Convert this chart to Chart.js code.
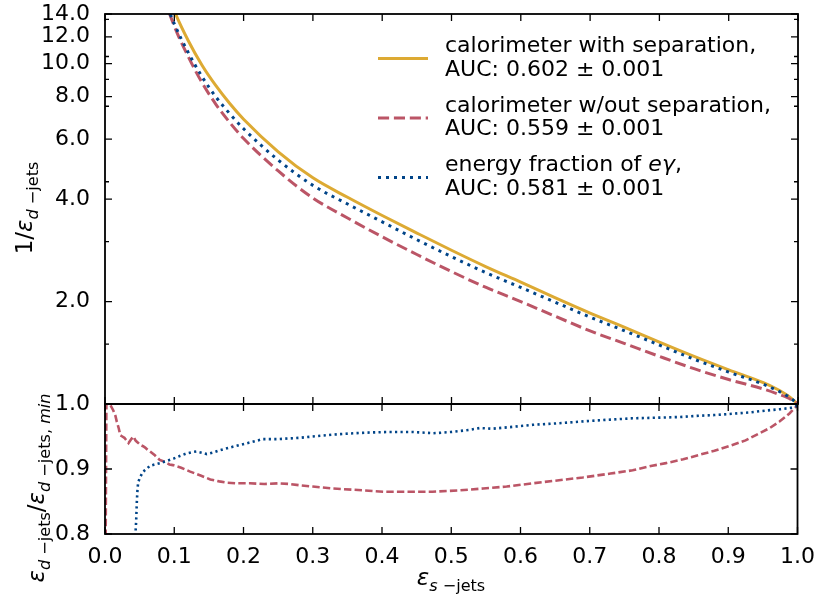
<!DOCTYPE html>
<html lang="en">
<head>
<meta charset="UTF-8">
<title>ROC comparison</title>
<script src="https://cdn.jsdelivr.net/npm/chart.js"></script>
<style>
  body { margin: 0; background: #fff; }
  #wrap { position: relative; width: 817px; height: 594px; }
  canvas { position: absolute; left: 0; }
</style>
</head>
<body>
<div id="wrap">
  <canvas id="topChart" width="817" height="420" style="top:0px"></canvas>
  <canvas id="bottomChart" width="817" height="214" style="top:380px"></canvas>
</div>
<script>
// ---- data ----
const sigEff = [0.05, 0.06, 0.08, 0.10, 0.12, 0.14, 0.16, 0.18, 0.20, 0.25, 0.30, 0.35, 0.40, 0.45, 0.50, 0.55, 0.60, 0.65, 0.70, 0.75, 0.80, 0.85, 0.90, 0.95, 0.97, 0.985, 1.0];
const invWithSep = [34.5, 26.6, 18.5, 14.3, 11.7, 9.9, 8.62, 7.64, 6.87, 5.51, 4.62, 4.05, 3.58, 3.18, 2.83, 2.53, 2.28, 2.05, 1.85, 1.68, 1.52, 1.38, 1.26, 1.155, 1.105, 1.06, 1.0];
const invNoSep   = [32.4, 24.8, 16.9, 12.9, 10.5, 8.80, 7.60, 6.72, 6.03, 4.84, 4.03, 3.52, 3.10, 2.75, 2.45, 2.20, 2.00, 1.81, 1.64, 1.505, 1.38, 1.27, 1.18, 1.107, 1.072, 1.043, 1.0];
const invEnergy  = [30.6, 23.9, 16.8, 13.1, 10.8, 9.16, 7.99, 7.13, 6.44, 5.21, 4.39, 3.87, 3.43, 3.04, 2.71, 2.43, 2.20, 1.99, 1.80, 1.64, 1.49, 1.354, 1.241, 1.143, 1.096, 1.055, 1.0];

const ratioNoSepX = [0, 0.002, 0.007, 0.012, 0.015, 0.017, 0.020, 0.022, 0.025, 0.028, 0.031, 0.034, 0.038, 0.041, 0.044, 0.046, 0.051, 0.055, 0.058, 0.062, 0.065, 0.072, 0.079, 0.084, 0.088, 0.093, 0.098, 0.11, 0.123, 0.138, 0.152, 0.165, 0.176, 0.19, 0.209, 0.23, 0.25, 0.265, 0.281, 0.3, 0.329, 0.36, 0.402, 0.44, 0.473, 0.51, 0.546, 0.58, 0.618, 0.65, 0.69, 0.73, 0.762, 0.79, 0.81, 0.835, 0.859, 0.88, 0.906, 0.925, 0.945, 0.96, 0.974, 0.988, 1.0];
const ratioNoSep  = [0.60, 1.0, 1.0, 0.99, 0.982, 0.973, 0.962, 0.952, 0.950, 0.948, 0.944, 0.940, 0.946, 0.950, 0.944, 0.942, 0.937, 0.935, 0.933, 0.929, 0.927, 0.921, 0.914, 0.912, 0.910, 0.907, 0.906, 0.902, 0.896, 0.890, 0.884, 0.881, 0.879, 0.878, 0.878, 0.877, 0.878, 0.877, 0.875, 0.873, 0.870, 0.868, 0.865, 0.865, 0.865, 0.867, 0.870, 0.873, 0.878, 0.882, 0.887, 0.893, 0.898, 0.905, 0.909, 0.915, 0.922, 0.928, 0.937, 0.944, 0.955, 0.963, 0.973, 0.985, 0.998];

const ratioEnergyX = [0.043, 0.045, 0.046, 0.047, 0.048, 0.051, 0.055, 0.060, 0.065, 0.072, 0.079, 0.088, 0.099, 0.108, 0.118, 0.126, 0.132, 0.140, 0.147, 0.155, 0.166, 0.18, 0.195, 0.21, 0.228, 0.25, 0.281, 0.30, 0.33, 0.36, 0.378, 0.41, 0.445, 0.474, 0.50, 0.525, 0.541, 0.56, 0.59, 0.618, 0.65, 0.70, 0.73, 0.762, 0.80, 0.83, 0.859, 0.88, 0.906, 0.93, 0.955, 0.975, 0.99, 1.0];
const ratioEnergy  = [0.78, 0.82, 0.85, 0.87, 0.880, 0.888, 0.896, 0.900, 0.905, 0.907, 0.909, 0.912, 0.916, 0.920, 0.924, 0.926, 0.927, 0.925, 0.923, 0.925, 0.929, 0.933, 0.937, 0.941, 0.946, 0.946, 0.948, 0.950, 0.953, 0.955, 0.956, 0.957, 0.957, 0.955, 0.957, 0.960, 0.963, 0.962, 0.965, 0.968, 0.970, 0.974, 0.976, 0.978, 0.979, 0.980, 0.982, 0.983, 0.985, 0.987, 0.990, 0.992, 0.994, 0.997];

const xTicks = [0, 0.1, 0.2, 0.3, 0.4, 0.5, 0.6, 0.7, 0.8, 0.9, 1.0];
const yTopTicks = [1, 2, 4, 6, 8, 10, 12, 14];
const yTopMinor = [1.5, 3, 4.5, 7.5, 9, 10.5, 13.5];
const yBotTicks = [0.8, 0.9, 1.0];

const seriesNames = [
  [['calorimeter with separation,', 'n']],
  [['calorimeter w/out separation,', 'n']],
  [['energy fraction of ', 'n'], ['eγ', 'i'], [',', 'n']]
];
const aucLabels = ['AUC: 0.602 ± 0.001', 'AUC: 0.559 ± 0.001', 'AUC: 0.581 ± 0.001'];

const yellow = '#DDAA33', red = '#BB5566', blue = '#004488';
const FONT = 'DejaVu Sans';

function pts(xs, ys) { return xs.map((x, i) => ({ x: x, y: ys[i] })); }

function runsWidth(ctx, runs, size) {
  let w = 0;
  runs.forEach(([t, st]) => {
    const fs = st.includes('s') ? size * 0.7 : size;
    ctx.font = (st.includes('i') ? 'italic ' : '') + fs + 'px "' + FONT + '"';
    w += ctx.measureText(t).width;
  });
  return w;
}
function drawRuns(ctx, runs, x, y, size) {
  let cx = x;
  runs.forEach(([t, st]) => {
    const sub = st.includes('s');
    const fs = sub ? size * 0.7 : size;
    ctx.font = (st.includes('i') ? 'italic ' : '') + fs + 'px "' + FONT + '"';
    ctx.fillText(t, cx, y + (sub ? size * 0.24 : 0));
    cx += ctx.measureText(t).width;
  });
}
function drawRotated(ctx, runs, x, y, size) {
  ctx.save();
  ctx.translate(x, y);
  ctx.rotate(-Math.PI / 2);
  const w = runsWidth(ctx, runs, size);
  drawRuns(ctx, runs, -w / 2, 0, size);
  ctx.restore();
}

// inward ticks on all four sides + frame
const framePlugin = {
  id: 'frame',
  afterDraw(chart, args, opts) {
    const { ctx, chartArea: a, scales } = chart;
    ctx.save();
    ctx.strokeStyle = '#000';
    ctx.lineWidth = 1.3;
    ctx.beginPath();
    xTicks.forEach(v => {
      const px = scales.x.getPixelForValue(v);
      ctx.moveTo(px, a.top); ctx.lineTo(px, a.top + 7);
      ctx.moveTo(px, a.bottom); ctx.lineTo(px, a.bottom - 7);
    });
    opts.yMajor.forEach(v => {
      const py = scales.y.getPixelForValue(v);
      ctx.moveTo(a.left, py); ctx.lineTo(a.left + 7, py);
      ctx.moveTo(a.right, py); ctx.lineTo(a.right - 7, py);
    });
    opts.yMinor.forEach(v => {
      const py = scales.y.getPixelForValue(v);
      ctx.moveTo(a.left, py); ctx.lineTo(a.left + 4, py);
      ctx.moveTo(a.right, py); ctx.lineTo(a.right - 4, py);
    });
    ctx.stroke();
    ctx.lineWidth = 1.8;
    ctx.strokeRect(a.left, a.top, a.right - a.left, a.bottom - a.top);
    ctx.restore();
  }
};

const topTexts = {
  id: 'topTexts',
  afterDraw(chart) {
    const ctx = chart.ctx;
    ctx.save();
    ctx.fillStyle = '#000';
    ctx.textAlign = 'left';
    ctx.textBaseline = 'alphabetic';
    drawRotated(ctx, [['1/', 'n'], ['ε', 'i'], ['d', 'is'], [' −jets', 'ns']], 32, 208, 23);
    // legend
    const styles = [
      { c: yellow, d: [] },
      { c: red, d: [11.1, 4.8] },
      { c: blue, d: [3, 5] }
    ];
    for (let i = 0; i < 3; i++) {
      const b = 52 + i * 59.5;
      ctx.strokeStyle = styles[i].c;
      ctx.lineWidth = 3;
      ctx.lineCap = 'butt';
      ctx.setLineDash(styles[i].d);
      ctx.beginPath();
      ctx.moveTo(378, b + 6.5);
      ctx.lineTo(428, b + 6.5);
      ctx.stroke();
      ctx.setLineDash([]);
      drawRuns(ctx, seriesNames[i], 445, b, 22);
      drawRuns(ctx, [[aucLabels[i], 'n']], 445, b + 23.5, 22);
    }
    ctx.restore();
  }
};

const bottomTexts = {
  id: 'bottomTexts',
  afterDraw(chart) {
    const ctx = chart.ctx;
    ctx.save();
    ctx.fillStyle = '#000';
    ctx.textAlign = 'left';
    ctx.textBaseline = 'alphabetic';
    drawRotated(ctx, [['ε', 'i'], ['d', 'is'], [' −jets', 'ns'], ['/', 'n'], ['ε', 'i'], ['d', 'is'], [' −jets, ', 'ns'], ['min', 'is']], 44, 488 - 380, 23);
    const xr = [['ε', 'i'], ['s', 'is'], [' −jets', 'ns']];
    const w = runsWidth(ctx, xr, 23);
    drawRuns(ctx, xr, 451 - w / 2, 585 - 380, 23);
    ctx.restore();
  }
};

const yTickFont = { family: FONT, size: 22, lineHeight: 0.6 };
const xTickFont = { family: FONT, size: 22 };

new Chart(document.getElementById('topChart'), {
  type: 'line',
  data: {
    datasets: [
      { data: pts(sigEff, invWithSep), borderColor: yellow, borderWidth: 3, order: 3, cubicInterpolationMode: 'monotone' },
      { data: pts(sigEff, invNoSep), borderColor: red, borderWidth: 3, borderDash: [11.1, 4.8], order: 2, cubicInterpolationMode: 'monotone' },
      { data: pts(sigEff, invEnergy), borderColor: blue, borderWidth: 3, borderDash: [3, 5], order: 1, cubicInterpolationMode: 'monotone' }
    ]
  },
  options: {
    responsive: false,
    animation: false,
    events: [],
    elements: { point: { radius: 0 }, line: { fill: false, borderCapStyle: 'butt' } },
    layout: { padding: { top: 14, bottom: 16, left: 0, right: 19 } },
    scales: {
      x: { type: 'linear', min: 0, max: 1, display: false },
      y: {
        type: 'logarithmic', min: 1, max: 14,
        afterBuildTicks: s => { s.ticks = yTopTicks.map(v => ({ value: v })); },
        afterFit: s => { s.width = 105; },
        ticks: { callback: v => (v === 1 ? '' : Number(v).toFixed(1)), font: yTickFont, color: '#000', padding: 7, autoSkip: false },
        grid: { display: false },
        border: { display: false }
      }
    },
    plugins: {
      legend: { display: false },
      tooltip: { enabled: false },
      frame: { yMajor: yTopTicks, yMinor: yTopMinor }
    }
  },
  plugins: [framePlugin, topTexts]
});

new Chart(document.getElementById('bottomChart'), {
  type: 'line',
  data: {
    datasets: [
      { data: pts(ratioNoSepX, ratioNoSep), borderColor: red, borderWidth: 2.6, borderDash: [7.4, 3.2], order: 2 },
      { data: pts(ratioEnergyX, ratioEnergy), borderColor: blue, borderWidth: 2.6, borderDash: [2.2, 3.3], order: 1 }
    ]
  },
  options: {
    responsive: false,
    animation: false,
    events: [],
    elements: { point: { radius: 0 }, line: { fill: false, tension: 0, borderCapStyle: 'butt' } },
    layout: { padding: { top: 24, bottom: 0, left: 0, right: 19 } },
    scales: {
      x: {
        type: 'linear', min: 0, max: 1,
        afterBuildTicks: s => { s.ticks = xTicks.map(v => ({ value: v })); },
        afterFit: s => { s.height = 60; },
        ticks: { callback: v => Number(v).toFixed(1), font: xTickFont, color: '#000', padding: 2, autoSkip: false, maxRotation: 0 },
        grid: { display: false },
        border: { display: false }
      },
      y: {
        type: 'linear', min: 0.8, max: 1.0,
        afterBuildTicks: s => { s.ticks = yBotTicks.map(v => ({ value: v })); },
        afterFit: s => { s.width = 105; },
        ticks: { callback: v => Number(v).toFixed(1), font: yTickFont, color: '#000', padding: 7, autoSkip: false },
        grid: { display: false },
        border: { display: false }
      }
    },
    plugins: {
      legend: { display: false },
      tooltip: { enabled: false },
      frame: { yMajor: yBotTicks, yMinor: [] }
    }
  },
  plugins: [framePlugin, bottomTexts]
});
</script>
</body>
</html>
